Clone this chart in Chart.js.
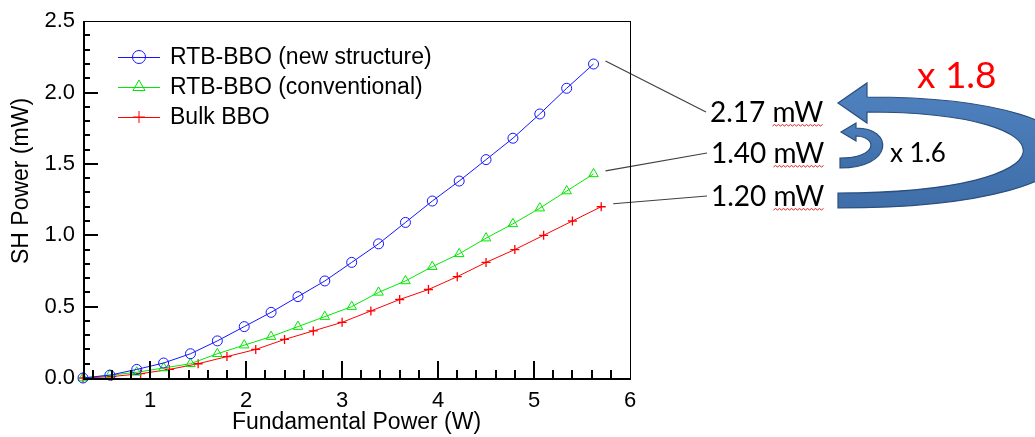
<!DOCTYPE html>
<html>
<head>
<meta charset="utf-8">
<script src="https://cdn.jsdelivr.net/npm/chart.js@4.4.1/dist/chart.umd.min.js"></script>
<style>
    html, body { margin: 0; padding: 0; background: #fff; }
    #wrap { width: 1035px; height: 437px; position: relative; }
</style>
</head>
<body>
<div id="wrap"><canvas id="shgChart" width="1035" height="437"></canvas></div>
<script>
// 基波功率 (W)
const powerRtb = [0.30, 0.58, 0.86, 1.14, 1.42, 1.70, 1.98, 2.26, 2.54, 2.82,
                  3.10, 3.38, 3.66, 3.94, 4.22, 4.50, 4.78, 5.06, 5.34, 5.62];
const powerBulk = [0.3, 0.6, 0.9, 1.2, 1.5, 1.8, 2.1, 2.4, 2.7, 3.0,
                   3.3, 3.6, 3.9, 4.2, 4.5, 4.8, 5.1, 5.4, 5.7];

// SH 功率 (mW)
const shgNewStructure = [0.00, 0.02, 0.06, 0.105, 0.17, 0.26, 0.36, 0.46, 0.57, 0.68,
                         0.81, 0.94, 1.09, 1.24, 1.38, 1.53, 1.68, 1.85, 2.03, 2.20];
const shgConventional = [0.00, 0.02, 0.04, 0.07, 0.10, 0.17, 0.23, 0.29, 0.36, 0.43,
                         0.50, 0.60, 0.68, 0.78, 0.87, 0.98, 1.08, 1.19, 1.31, 1.43];
const shgBulk = [0.00, 0.01, 0.03, 0.06, 0.10, 0.15, 0.20, 0.27, 0.33, 0.39,
                 0.47, 0.55, 0.62, 0.71, 0.81, 0.90, 1.00, 1.10, 1.20];

const seriesNames = ['RTB-BBO (new structure)', 'RTB-BBO (conventional)', 'Bulk BBO'];
const xTickValues = [1, 2, 3, 4, 5, 6];
const yTickValues = [0, 0.5, 1.0, 1.5, 2.0, 2.5];
const xMinorTicks = [0.4, 0.6, 0.8, 1.2, 1.4, 1.6, 1.8, 2.2, 2.4, 2.6, 2.8, 3.2, 3.4, 3.6, 3.8,
                     4.2, 4.4, 4.6, 4.8, 5.2, 5.4, 5.6, 5.8];
const yMinorTicks = [0.1, 0.2, 0.3, 0.4, 0.6, 0.7, 0.8, 0.9, 1.1, 1.2, 1.3, 1.4,
                     1.6, 1.7, 1.8, 1.9, 2.1, 2.2, 2.3, 2.4];
const endLabels = ['2.17 mW', '1.40 mW', '1.20 mW'];
const ratioLabels = ['x 1.8', 'x 1.6'];

const ARIAL = '"Liberation Sans", Arial, sans-serif';
const CALIBRI = 'Lato, "Noto Sans", sans-serif';

function toPoints(xs, ys) {
    return ys.map((y, i) => ({ x: xs[i], y: y }));
}

// 波浪下划线 (拼写检查)
function squiggle(ctx, x0, x1, y) {
    ctx.save();
    ctx.strokeStyle = '#e02020';
    ctx.lineWidth = 1;
    ctx.beginPath();
    let up = true;
    ctx.moveTo(x0, y);
    for (let x = x0 + 2; x <= x1; x += 2) {
        ctx.lineTo(x, up ? y - 1.5 : y);
        up = !up;
    }
    ctx.stroke();
    ctx.restore();
}

function curvedArrow(ctx, a) {
    ctx.save();
    ctx.beginPath();
    ctx.moveTo(a.tip[0], a.tip[1]);
    ctx.lineTo(a.headTop[0], a.headTop[1]);
    ctx.lineTo(a.outerStart[0], a.outerStart[1]);
    ctx.bezierCurveTo(a.outerC1[0], a.outerC1[1], a.outerC2[0], a.outerC2[1], a.outerEnd[0], a.outerEnd[1]);
    ctx.lineTo(a.innerStart[0], a.innerStart[1]);
    ctx.bezierCurveTo(a.innerC1[0], a.innerC1[1], a.innerC2[0], a.innerC2[1], a.innerEnd[0], a.innerEnd[1]);
    ctx.lineTo(a.headBottom[0], a.headBottom[1]);
    ctx.closePath();
    const g = ctx.createLinearGradient(0, a.tip[1] - 20, 0, a.outerEnd[1]);
    g.addColorStop(0, '#4f82c0');
    g.addColorStop(1, '#3f6ea8');
    ctx.fillStyle = g;
    ctx.fill();
    ctx.strokeStyle = '#2b4f7e';
    ctx.lineWidth = 1.2;
    ctx.stroke();
    ctx.restore();
}

// 刻度位置: 在布局后由比例尺计算
let tickPixels = { x: [], y: [] };

const annotationPlugin = {
    id: 'annotationPlugin',
    afterLayout(chart) {
        const xs = chart.scales.x;
        const ys = chart.scales.y;
        tickPixels = { x: [], y: [] };
        yTickValues.concat(yMinorTicks).forEach(v => {
            if (v <= 0 || v >= 2.5) return;
            tickPixels.y.push({ p: ys.getPixelForValue(v), major: yTickValues.includes(v) });
        });
        xTickValues.concat(xMinorTicks).forEach(v => {
            if (v >= 6) return;
            tickPixels.x.push({ p: xs.getPixelForValue(v), major: xTickValues.includes(v) });
        });
    },
    afterDraw(chart) {
        const ctx = chart.ctx;
        const area = chart.chartArea;
        ctx.save();

        // y 轴标题
        ctx.save();
        ctx.translate(22, 181);
        ctx.rotate(-Math.PI / 2);
        ctx.fillStyle = '#000';
        ctx.font = '23px ' + ARIAL;
        ctx.textAlign = 'center';
        ctx.textBaseline = 'middle';
        ctx.fillText('SH Power (mW)', 0, 0);
        ctx.restore();

        // 图例
        const rowY = [57, 87, 117];
        chart.data.datasets.forEach((ds, i) => {
            const y = rowY[i];
            ctx.strokeStyle = ds.borderColor;
            ctx.lineWidth = 1;
            ctx.beginPath();
            ctx.moveTo(118, y + 0.5);
            ctx.lineTo(160, y + 0.5);
            ctx.stroke();
            ctx.fillStyle = 'rgba(0,0,0,0)';
            Chart.helpers.drawPoint(ctx, {
                pointStyle: ds.pointStyle,
                radius: ds.pointRadius + 1.5,
                rotation: 0,
                borderWidth: 1
            }, 139, y);
            ctx.fillStyle = '#000';
            ctx.font = '23px ' + ARIAL;
            ctx.textAlign = 'left';
            ctx.textBaseline = 'middle';
            ctx.fillText(ds.label, 170, y + 1);
        });

        // 末端标注
        const labelPos = [[710, 122], [711, 163], [711, 206]];
        ctx.font = '28px ' + CALIBRI;
        chart.data.datasets.forEach((ds, i) => {
            const meta = chart.getDatasetMeta(i);
            const last = meta.data[meta.data.length - 1];
            ctx.strokeStyle = '#404040';
            ctx.lineWidth = 1.2;
            ctx.beginPath();
            ctx.moveTo(last.x + 12, last.y - 3);
            ctx.lineTo(labelPos[i][0] - 4, labelPos[i][1] - 10);
            ctx.stroke();

            ctx.fillStyle = '#000';
            ctx.textAlign = 'left';
            ctx.textBaseline = 'alphabetic';
            ctx.fillText(endLabels[i], labelPos[i][0], labelPos[i][1]);
            const numW = ctx.measureText(endLabels[i].split(' ')[0] + ' ').width;
            const allW = ctx.measureText(endLabels[i]).width;
            squiggle(ctx, labelPos[i][0] + numW, labelPos[i][0] + allW, labelPos[i][1] + 4);
        });

        // 弯箭头
        curvedArrow(ctx, {
            tip: [838, 103], headTop: [867, 83], headBottom: [867, 123],
            outerStart: [867, 97], outerC1: [1140, 97], outerC2: [1140, 208], outerEnd: [838, 208],
            innerStart: [838, 193], innerC1: [1080, 193], innerC2: [1080, 112], innerEnd: [867, 112]
        });
        curvedArrow(ctx, {
            tip: [841, 132], headTop: [856, 123], headBottom: [856, 141],
            outerStart: [856, 128], outerC1: [894, 128], outerC2: [894, 168], outerEnd: [840, 168],
            innerStart: [840, 158], innerC1: [878, 158], innerC2: [878, 137], innerEnd: [856, 136]
        });

        // 倍率
        ctx.textAlign = 'left';
        ctx.textBaseline = 'alphabetic';
        ctx.fillStyle = '#ff0000';
        ctx.font = '37px ' + CALIBRI;
        ctx.fillText(ratioLabels[0], 917, 88);
        ctx.fillStyle = '#000';
        ctx.font = '26px ' + CALIBRI;
        ctx.fillText(ratioLabels[1], 890, 162);

        // 边框和向内刻度 (最后画)
        const left = Math.round(area.left);
        const top = Math.round(area.top);
        const right = Math.round(area.right);
        const bottom = Math.round(area.bottom);
        ctx.globalAlpha = 1;
        ctx.globalCompositeOperation = 'source-over';
        ctx.setLineDash([]);
        ctx.fillStyle = '#000000';
        tickPixels.y.forEach(t => {
            const py = Math.round(t.p);
            ctx.fillRect(left, py - 1, t.major ? 15 : 7, 2);
        });
        tickPixels.x.forEach(t => {
            const px = Math.round(t.p);
            const len = t.major ? 17 : 8;
            ctx.fillRect(px - 1, bottom - len, 2, len);
        });
        console.log('ticks', JSON.stringify(tickPixels));

        ctx.strokeStyle = '#000000';
        ctx.lineWidth = 1;
        ctx.strokeRect(left + 0.5, top + 0.5, right - left, bottom - top);
        ctx.fillRect(left, top, 2, bottom - top + 1);
        ctx.fillRect(left, bottom, right - left + 1, 2);

        ctx.restore();
    }
};

const canvasEl = document.getElementById('shgChart');

const shgChart = new Chart(canvasEl.getContext('2d'), {
    type: 'line',
    data: {
        datasets: [
            {
                label: seriesNames[0],
                data: toPoints(powerRtb, shgNewStructure),
                borderColor: '#1515ff',
                backgroundColor: 'rgba(0,0,0,0)',
                pointStyle: 'circle',
                pointRadius: 5,
                borderWidth: 1,
                pointBorderWidth: 1,
                clip: false
            },
            {
                label: seriesNames[1],
                data: toPoints(powerRtb, shgConventional),
                borderColor: '#00e800',
                backgroundColor: 'rgba(0,0,0,0)',
                pointStyle: 'triangle',
                pointRadius: 5.5,
                borderWidth: 1,
                pointBorderWidth: 1,
                clip: false
            },
            {
                label: seriesNames[2],
                data: toPoints(powerBulk, shgBulk),
                borderColor: '#ff0000',
                backgroundColor: 'rgba(0,0,0,0)',
                pointStyle: 'cross',
                pointRadius: 4.5,
                borderWidth: 1,
                pointBorderWidth: 1.3,
                clip: false
            }
        ]
    },
    options: {
        responsive: false,
        animation: false,
        devicePixelRatio: 1,
        layout: {
            padding: { top: 20, right: 405, left: 0, bottom: 0 }
        },
        elements: {
            line: { tension: 0 }
        },
        plugins: {
            legend: { display: false },
            tooltip: { enabled: false }
        },
        scales: {
            x: {
                type: 'linear',
                min: 0.3,
                max: 6,
                afterFit: function(scale) { scale.height = 59; },
                afterBuildTicks: function(scale) {
                    scale.ticks = xTickValues.map(v => ({ value: v }));
                },
                grid: { display: false, drawTicks: false },
                border: { display: false },
                ticks: {
                    color: '#000',
                    padding: 10,
                    font: { family: ARIAL, size: 22 },
                    callback: function(value) { return String(value); }
                },
                title: {
                    display: true,
                    text: 'Fundamental Power (W)',
                    color: '#000',
                    font: { family: ARIAL, size: 23 },
                    padding: { top: 0, bottom: 1 }
                }
            },
            y: {
                type: 'linear',
                min: 0,
                max: 2.5,
                afterFit: function(scale) { scale.width = 83; },
                afterBuildTicks: function(scale) {
                    scale.ticks = yTickValues.map(v => ({ value: v }));
                },
                grid: { display: false, drawTicks: false },
                border: { display: false },
                ticks: {
                    color: '#000',
                    padding: 8,
                    font: { family: ARIAL, size: 22 },
                    callback: function(value) { return Number(value).toFixed(1); }
                }
            }
        }
    },
    plugins: [annotationPlugin]
});
</script>
</body>
</html>
